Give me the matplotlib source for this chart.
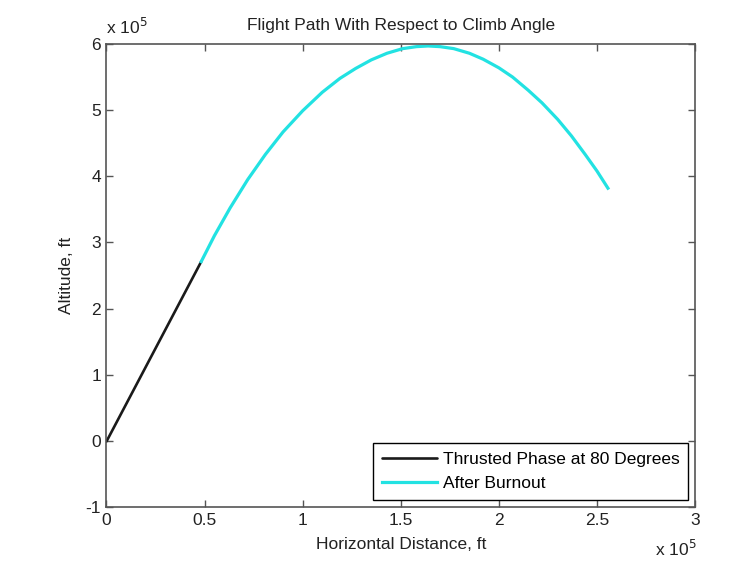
import matplotlib.pyplot as plt
from matplotlib.ticker import FuncFormatter

plt.rcParams['font.family'] = ['Liberation Sans', 'DejaVu Sans']

# thrusted phase, ft
thrust_x = [0, 48300]
thrust_y = [-1000, 271000]

# after burnout, ft
coast_x = [48300, 55000, 63000, 72000, 81000, 90000, 100000, 110000, 119000,
           127000, 135000, 143000, 151000, 158000, 164000, 170000, 177000,
           185000, 192000, 200000, 207000, 215000, 222000, 230000, 237000,
           244000, 250000, 255600]
coast_y = [271000, 310000, 352000, 395000, 433000, 467000, 499000, 527000, 548000,
           563000, 576000, 586000, 593000, 596000, 597000, 596000, 593000,
           586000, 577000, 564000, 550000, 530000, 511000, 486000, 461000,
           433000, 408000, 382000]

xticks = [0, 50000, 100000, 150000, 200000, 250000, 300000]
yticks = [-100000, 0, 100000, 200000, 300000, 400000, 500000, 600000]

axis_col = '#555555'
fs = 12.5

fig = plt.figure(figsize=(7.54, 5.64), dpi=100)
ax = fig.add_axes([0.1412, 0.1011, 0.7806, 0.8209])

ax.plot(thrust_x, thrust_y, color='#1a1a1a', lw=1.9, label='Thrusted Phase at 80 Degrees',
        solid_capstyle='round')
ax.plot(coast_x, coast_y, color='#22e2e2', lw=2.3, label='After Burnout',
        solid_joinstyle='round')

ax.set_xlim(0, 300000)
ax.set_ylim(-100000, 600000)
ax.set_xticks(xticks)
ax.set_yticks(yticks)
fmt = FuncFormatter(lambda v, p: '{:g}'.format(round(v / 1e5, 2)))
ax.xaxis.set_major_formatter(fmt)
ax.yaxis.set_major_formatter(fmt)

ax.tick_params(direction='in', top=True, right=True, length=5, width=1,
               color=axis_col, labelsize=fs, labelcolor='#222222', pad=4)
for s in ax.spines.values():
    s.set_color(axis_col)
    s.set_linewidth(1.2)

ax.set_title('Flight Path With Respect to Climb Angle', fontsize=fs, pad=10,
             color='#222222')
ax.set_xlabel('Horizontal Distance, ft', fontsize=fs, labelpad=7, color='#222222')
ax.set_ylabel('Altitude, ft', fontsize=fs, labelpad=8, color='#222222')

ax.text(0.0, 1.015, r'x 10$^{5}$', transform=ax.transAxes, fontsize=fs,
        color='#222222', ha='left', va='bottom')
ax.text(0.932, -0.112, r'x 10$^{5}$', transform=ax.transAxes, fontsize=fs,
        color='#222222', ha='left', va='bottom')

leg = ax.legend(loc='lower right', fontsize=fs, fancybox=False, framealpha=1,
                edgecolor='black', borderpad=0.5, handlelength=3.2,
                handletextpad=0.3, labelspacing=0.55, borderaxespad=0.4)
leg.get_frame().set_linewidth(1.0)

fig.savefig('out.png', dpi=100)
